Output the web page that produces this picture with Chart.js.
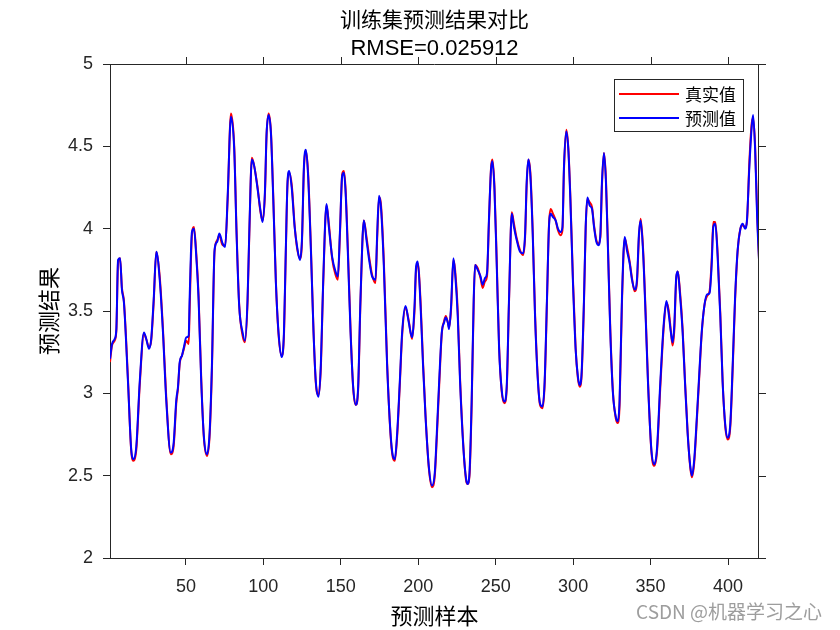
<!DOCTYPE html>
<html>
<head>
<meta charset="utf-8">
<title>训练集预测结果对比</title>
<script src="https://cdn.jsdelivr.net/npm/chart.js@4.4.0/dist/chart.umd.min.js"></script>
<style>
  html, body { margin: 0; padding: 0; background: #fff; }
</style>
</head>
<body>
<canvas id="line-chart" width="840" height="630"></canvas>
<script>
// sample positions (x axis: 预测样本)
const sampleX = [
  1, 2.3, 4.0, 5.1, 6.2, 7.5, 8.7, 10.0, 12.6, 14.7, 16.3, 18.0, 20.2, 22.9, 24.4, 26.2, 27.6, 29.2, 30.9, 33.1,
  35.2, 37.3, 40.2, 42.1, 43.8, 44.9, 46.0, 47.5, 48.7, 50.2, 51.8, 52.4, 53.9, 55.2, 56.7, 58.2, 59.9, 61.6, 63.6, 65.3,
  66.8, 68.5, 70.2, 71.6, 73.7, 75.4, 76.9, 79.1, 81.2, 82.7, 84.4, 86.6, 88.1, 89.8, 90.9, 92.6, 94.1, 96.3, 98.0, 99.5,
  101.0, 102.1, 103.4, 104.9, 106.4, 108.1, 109.8, 111.8, 113.3, 114.5, 115.6, 116.7, 118.4, 120.2, 121.8, 123.6, 124.9, 126.2, 127.5, 128.9,
  130.7, 132.4, 133.9, 135.6, 137.1, 138.6, 140.8, 142.3, 144.4, 146.6, 148.1, 149.4, 150.9, 152.0, 153.1, 154.5, 156.3, 158.0, 159.7, 161.2,
  162.7, 164.9, 166.6, 168.3, 170.2, 172.4, 173.5, 174.7, 176.0, 177.8, 179.9, 182.1, 183.6, 184.9, 186.4, 188.1, 189.6, 191.8, 193.9, 196.0,
  197.6, 198.6, 199.7, 201.5, 203.1, 204.7, 206.8, 208.9, 210.7, 212.0, 213.5, 215.2, 216.7, 217.8, 219.1, 219.9, 221.2, 222.7, 223.8, 225.5,
  227.0, 229.2, 230.9, 231.8, 233.1, 234.5, 235.8, 236.7, 238.4, 240.2, 241.6, 243.1, 244.4, 245.7, 247.0, 247.9, 249.2, 250.7, 252.2, 253.9,
  255.6, 257.1, 258.6, 260.4, 261.8, 263.6, 265.7, 267.7, 269.0, 270.0, 271.1, 272.4, 273.9, 275.4, 277.1, 278.6, 280.2, 281.6, 283.1, 284.4,
  285.5, 287.0, 288.7, 290.2, 291.8, 293.1, 294.1, 295.6, 296.9, 298.2, 299.9, 301.6, 303.1, 304.2, 305.5, 307.0, 308.1, 309.2, 310.7, 312.2,
  313.5, 315.0, 316.3, 317.6, 318.6, 319.9, 321.2, 322.5, 324.0, 325.7, 327.5, 328.8, 330.0, 331.5, 333.3, 334.7, 336.5, 338.0, 339.7, 341.2,
  342.5, 343.6, 345.1, 346.8, 348.3, 350.5, 352.4, 354.1, 356.3, 358.4, 360.2, 361.6, 363.1, 364.2, 365.3, 366.6, 367.6, 368.9, 370.7, 372.2,
  373.9, 375.6, 376.7, 378.2, 379.9, 381.5, 383.0, 384.7, 386.4, 388.1, 389.4, 390.5, 391.8, 393.3, 395.0, 396.5, 398.3, 399.8, 401.5, 403.0,
  404.5, 406.2, 408.0, 409.5, 411.0, 412.2, 413.8, 415.3, 416.2, 417.5, 418.8, 420
];

// 真实值
const trueY = [
  3.19, 3.29, 3.32, 3.38, 3.79, 3.82, 3.64, 3.56, 3.09, 2.65, 2.59, 2.66, 3.05, 3.36, 3.33, 3.28, 3.32, 3.55, 3.86, 3.71,
  3.39, 2.98, 2.63, 2.68, 2.94, 3.03, 3.18, 3.23, 3.27, 3.32, 3.30, 3.50, 3.96, 4.01, 3.85, 3.59, 3.09, 2.73, 2.62, 2.74,
  3.14, 3.86, 3.93, 3.96, 3.90, 3.90, 4.16, 4.70, 4.50, 3.99, 3.54, 3.35, 3.31, 3.55, 3.95, 4.43, 4.38, 4.25, 4.11, 4.05,
  4.20, 4.57, 4.70, 4.59, 4.20, 3.68, 3.36, 3.23, 3.35, 3.85, 4.27, 4.34, 4.26, 4.02, 3.88, 3.82, 3.91, 4.36, 4.47, 4.34,
  3.89, 3.38, 3.06, 2.99, 3.15, 3.65, 4.14, 4.03, 3.82, 3.72, 3.69, 3.95, 4.33, 4.35, 4.24, 3.90, 3.39, 3.03, 2.93, 3.02,
  3.55, 4.05, 3.95, 3.83, 3.72, 3.67, 3.94, 4.19, 4.14, 3.80, 3.19, 2.75, 2.61, 2.59, 2.74, 3.05, 3.35, 3.52, 3.44, 3.33,
  3.50, 3.75, 3.79, 3.56, 3.19, 2.87, 2.55, 2.43, 2.50, 2.73, 3.04, 3.36, 3.44, 3.47, 3.43, 3.40, 3.51, 3.81, 3.75, 3.50,
  3.09, 2.67, 2.47, 2.45, 2.50, 2.93, 3.54, 3.78, 3.76, 3.70, 3.64, 3.68, 3.71, 4.05, 4.37, 4.42, 4.26, 3.80, 3.29, 3.01,
  2.94, 3.02, 3.55, 4.10, 4.03, 3.94, 3.87, 3.84, 3.95, 4.26, 4.42, 4.34, 3.99, 3.49, 3.11, 2.93, 2.91, 3.05, 3.55, 4.02,
  4.12, 4.09, 4.05, 3.99, 3.96, 3.99, 4.36, 4.60, 4.49, 4.20, 3.69, 3.28, 3.09, 3.04, 3.11, 3.55, 4.00, 4.18, 4.16, 4.13,
  4.02, 3.93, 3.91, 3.95, 4.26, 4.46, 4.30, 3.89, 3.39, 3.01, 2.85, 2.82, 2.93, 3.54, 3.94, 3.89, 3.80, 3.70, 3.62, 3.67,
  3.95, 4.06, 3.89, 3.49, 3.09, 2.65, 2.56, 2.64, 3.04, 3.39, 3.55, 3.51, 3.38, 3.29, 3.38, 3.70, 3.74, 3.63, 3.39, 3.08,
  2.77, 2.55, 2.49, 2.58, 2.84, 3.11, 3.36, 3.53, 3.59, 3.62, 3.80, 4.04, 4.04, 3.85, 3.49, 3.08, 2.79, 2.72, 2.80, 3.14,
  3.55, 3.86, 4.00, 4.02, 4.01, 4.04, 4.41, 4.64, 4.67, 4.50, 4.10, 3.82
];

// 预测值
const predY = [
  3.21, 3.30, 3.33, 3.39, 3.81, 3.82, 3.63, 3.55, 3.07, 2.66, 2.60, 2.68, 3.07, 3.37, 3.33, 3.27, 3.33, 3.57, 3.86, 3.69,
  3.37, 2.96, 2.64, 2.70, 2.96, 3.04, 3.19, 3.23, 3.28, 3.34, 3.35, 3.57, 3.98, 4.00, 3.83, 3.57, 3.07, 2.74, 2.63, 2.76,
  3.17, 3.87, 3.92, 3.97, 3.91, 3.89, 4.18, 4.68, 4.48, 3.97, 3.53, 3.37, 3.32, 3.57, 3.97, 4.42, 4.38, 4.24, 4.12, 4.04,
  4.22, 4.58, 4.69, 4.58, 4.18, 3.67, 3.37, 3.22, 3.37, 3.87, 4.28, 4.35, 4.24, 4.01, 3.89, 3.81, 3.93, 4.38, 4.48, 4.32,
  3.87, 3.37, 3.07, 2.98, 3.17, 3.67, 4.15, 4.01, 3.83, 3.74, 3.71, 3.97, 4.32, 4.34, 4.22, 3.87, 3.37, 3.04, 2.93, 3.04,
  3.57, 4.05, 3.93, 3.81, 3.71, 3.69, 3.97, 4.20, 4.12, 3.77, 3.17, 2.76, 2.62, 2.60, 2.76, 3.07, 3.37, 3.53, 3.43, 3.34,
  3.53, 3.77, 3.80, 3.53, 3.17, 2.86, 2.56, 2.44, 2.52, 2.76, 3.07, 3.37, 3.43, 3.46, 3.43, 3.39, 3.53, 3.82, 3.73, 3.47,
  3.07, 2.66, 2.48, 2.45, 2.52, 2.96, 3.57, 3.78, 3.75, 3.71, 3.66, 3.70, 3.73, 4.07, 4.36, 4.41, 4.24, 3.77, 3.27, 3.02,
  2.95, 3.04, 3.57, 4.09, 4.01, 3.93, 3.86, 3.85, 3.97, 4.28, 4.42, 4.32, 3.97, 3.47, 3.10, 2.94, 2.92, 3.07, 3.57, 4.01,
  4.09, 4.07, 4.05, 4.00, 3.98, 4.01, 4.38, 4.59, 4.48, 4.18, 3.67, 3.27, 3.10, 3.05, 3.13, 3.57, 4.01, 4.19, 4.14, 4.12,
  4.01, 3.92, 3.90, 3.97, 4.28, 4.46, 4.28, 3.87, 3.37, 3.00, 2.86, 2.83, 2.96, 3.57, 3.95, 3.87, 3.79, 3.69, 3.63, 3.69,
  3.97, 4.05, 3.87, 3.47, 3.07, 2.66, 2.57, 2.66, 3.07, 3.41, 3.56, 3.49, 3.37, 3.31, 3.41, 3.71, 3.74, 3.61, 3.37, 3.07,
  2.76, 2.56, 2.50, 2.60, 2.86, 3.13, 3.37, 3.53, 3.60, 3.61, 3.77, 4.01, 4.03, 3.83, 3.47, 3.07, 2.80, 2.73, 2.82, 3.17,
  3.57, 3.87, 4.00, 4.03, 4.00, 4.05, 4.38, 4.62, 4.69, 4.48, 4.07, 3.81
];

const xTicks = [50, 100, 150, 200, 250, 300, 350, 400];
const yTicks = [2, 2.5, 3, 3.5, 4, 4.5, 5];

const axisColor = '#262626';
const numFont = "'Liberation Sans', Arial, sans-serif";
const cjkFont = "'Noto Sans CJK SC', sans-serif";

// titles, box on top/right, legend and watermark, matlab style
const matlabPlugin = {
  id: 'matlabDeco',
  afterDraw(chart) {
    const { ctx, chartArea: a, scales } = chart;
    const cx = (a.left + a.right) / 2;
    ctx.save();

    // top and right sides of the box with outward ticks
    ctx.strokeStyle = axisColor;
    ctx.lineWidth = 1;
    ctx.beginPath();
    ctx.moveTo(a.left, a.top + 0.5);
    ctx.lineTo(a.right, a.top + 0.5);
    ctx.moveTo(a.right - 0.5, a.top);
    ctx.lineTo(a.right - 0.5, a.bottom);
    xTicks.forEach(function (v) {
      const px = Math.round(scales.x.getPixelForValue(v)) + 0.5;
      ctx.moveTo(px, a.top);
      ctx.lineTo(px, a.top - 7);
    });
    yTicks.forEach(function (v) {
      const py = Math.round(scales.y.getPixelForValue(v)) + 0.5;
      ctx.moveTo(a.right, py);
      ctx.lineTo(a.right + 7, py);
    });
    ctx.stroke();

    // title
    ctx.fillStyle = '#000';
    ctx.textAlign = 'center';
    ctx.textBaseline = 'middle';
    ctx.font = '21px ' + cjkFont;
    ctx.fillText('训练集预测结果对比', cx, 19);
    ctx.font = '22px ' + numFont;
    ctx.fillText('RMSE=0.025912', cx, 49);

    // legend
    const lx = a.right - 145, ly = a.top + 15, lw = 129, lh = 52;
    ctx.fillStyle = '#fff';
    ctx.fillRect(lx, ly, lw, lh);
    ctx.strokeStyle = axisColor;
    ctx.strokeRect(lx + 0.5, ly + 0.5, lw, lh);
    ctx.font = '17px ' + cjkFont;
    ctx.textAlign = 'left';
    chart.data.datasets.forEach(function (ds, i) {
      const y = ly + 15 + i * 24;
      ctx.strokeStyle = ds.borderColor;
      ctx.lineWidth = 2;
      ctx.beginPath();
      ctx.moveTo(lx + 5, y);
      ctx.lineTo(lx + 65, y);
      ctx.stroke();
      ctx.fillStyle = '#000';
      ctx.fillText(ds.label, lx + 71, y + 1);
    });

    // watermark
    ctx.fillStyle = 'rgba(140,140,140,0.85)';
    ctx.textAlign = 'right';
    ctx.font = '19px ' + cjkFont;
    ctx.fillText('CSDN @机器学习之心', 822, 612);
    ctx.restore();
  },
};

const ctx = document.getElementById('line-chart');
const chart = new Chart(ctx, {
  type: 'line',
  data: {
    datasets: [
      {
        label: '真实值',
        data: sampleX.map((x, i) => ({ x: x, y: trueY[i] })),
        borderColor: '#ff0000',
        borderWidth: 2,
        pointRadius: 0,
        cubicInterpolationMode: 'monotone',
        order: 1,
      },
      {
        label: '预测值',
        data: sampleX.map((x, i) => ({ x: x, y: predY[i] })),
        borderColor: '#0000ff',
        borderWidth: 2,
        pointRadius: 0,
        cubicInterpolationMode: 'monotone',
        order: 0,
      },
    ],
  },
  options: {
    responsive: false,
    animation: false,
    layout: {
      padding: { left: 0, right: 81, top: 64, bottom: 0 },
    },
    plugins: {
      legend: { display: false },
      tooltip: { enabled: false },
    },
    scales: {
      x: {
        type: 'linear',
        min: 1,
        max: 420,
        afterBuildTicks: function (scale) {
          scale.ticks = xTicks.map((v) => ({ value: v }));
        },
        afterFit: function (scale) {
          scale.height = 72;
        },
        grid: {
          drawOnChartArea: false,
          drawTicks: true,
          tickLength: 7,
          color: axisColor,
        },
        border: { display: true, color: axisColor, width: 1 },
        ticks: {
          color: '#262626',
          padding: 11,
          maxRotation: 0,
          font: { family: numFont, size: 18 },
          callback: (v) => String(v),
        },
        title: {
          display: true,
          text: '预测样本',
          color: '#000',
          font: { family: cjkFont, size: 22 },
          padding: { top: 0, bottom: 1 },
        },
      },
      y: {
        min: 2,
        max: 5,
        afterBuildTicks: function (scale) {
          scale.ticks = yTicks.map((v) => ({ value: v }));
        },
        afterFit: function (scale) {
          scale.width = 110;
        },
        grid: {
          drawOnChartArea: false,
          drawTicks: true,
          tickLength: 7,
          color: axisColor,
        },
        border: { display: true, color: axisColor, width: 1 },
        ticks: {
          color: '#262626',
          padding: 10,
          font: { family: numFont, size: 18 },
          callback: (v) => String(v),
        },
        title: {
          display: true,
          text: '预测结果',
          color: '#000',
          font: { family: cjkFont, size: 22 },
          padding: { top: 35, bottom: 0 },
        },
      },
    },
  },
  plugins: [matlabPlugin],
});
</script>
</body>
</html>
